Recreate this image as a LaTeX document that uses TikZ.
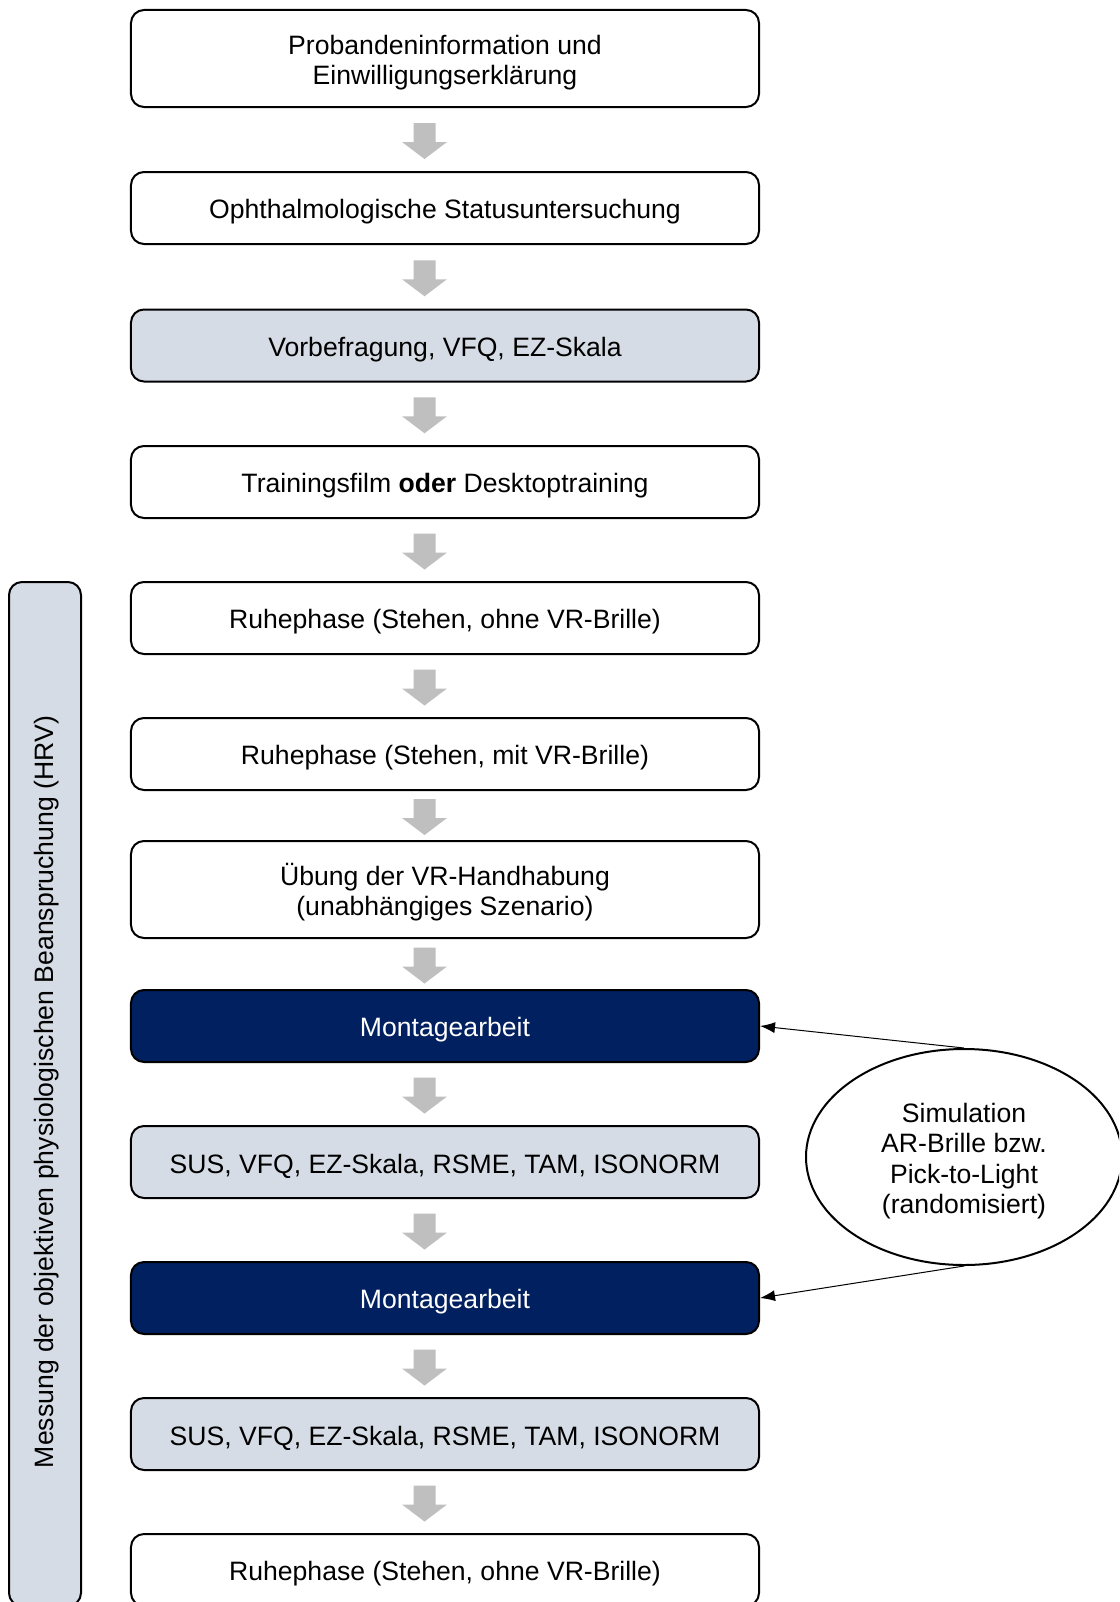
\documentclass[tikz,border=0pt]{standalone}
\usepackage{fontspec}
\setmainfont{Liberation Sans}
\usetikzlibrary{shapes.geometric,arrows.meta,calc}
\definecolor{paleblue}{HTML}{D6DCE5}
\definecolor{navy}{HTML}{002060}
\definecolor{arrowgray}{HTML}{BFBFBF}

% taller first line: sets the text a little below the geometric centre
\newcommand\lift{\rule{0pt}{27.4bp}}

% grey block arrow placed in the gap between two stacked stages
\newcommand\flowarrow[2]{%
  \path ($(#1.south)!0.5!(#2.north)$) ++(-20.5,1.5) coordinate (am);
  \fill[arrowgray] (am) ++(-11,-18) -- ++(22,0) -- ++(0,19) -- ++(11.5,0)
    -- ++(-22.5,17) -- ++(-22.5,-17) -- ++(11.5,0) -- cycle;
}

\begin{document}
\begin{tikzpicture}[x=1bp,y=-1bp,
  basefont/.style={font=\fontsize{26.6bp}{30.6bp}\selectfont},
  stage/.style={basefont,draw=black,line width=2bp,rounded corners=13bp,
    minimum width=628bp,minimum height=72bp,align=center,inner sep=0pt,fill=white},
  survey/.style={stage,fill=paleblue},
  task/.style={stage,fill=navy,text=white},
  feed/.style={draw=black,line width=1bp,-{Latex[length=15bp,width=11bp]}}]

\clip (0,0) rectangle (1119,1602);
\fill[white] (0,0) rectangle (1119,1602);

% measurement bar on the left
\draw[line width=2bp,rounded corners=13bp,fill=paleblue] (9,582) rectangle (81,1606);
\node[basefont,rotate=90,inner sep=0pt] (hrv) at (43,1092) {\lift Messung der objektiven physiologischen Beanspruchung (HRV)};

% stages of the procedure
\node[stage,minimum height=97bp] (s1) at (445,58.5) {\lift Probandeninformation und\\Einwilligungserklärung};
\node[stage] (s2) at (445,208) {\lift Ophthalmologische Statusuntersuchung};
\node[survey] (s3) at (445,345.5) {\lift Vorbefragung, VFQ, EZ-Skala};
\node[stage] (s4) at (445,482) {\lift Trainingsfilm \textbf{oder} Desktoptraining};
\node[stage] (s5) at (445,618) {\lift Ruhephase (Stehen, ohne VR-Brille)};
\node[stage] (s6) at (445,754) {\lift Ruhephase (Stehen, mit VR-Brille)};
\node[stage,minimum height=97bp] (s7) at (445,889.5) {\lift Übung der VR-Handhabung\\(unabhängiges Szenario)};
\node[task] (s8) at (445,1026) {\lift Montagearbeit};
\node[survey] (s9) at (445,1162) {\lift SUS, VFQ, EZ-Skala, RSME, TAM, ISONORM};
\node[task] (s10) at (445,1298) {\lift Montagearbeit};
\node[survey] (s11) at (445,1434) {\lift SUS, VFQ, EZ-Skala, RSME, TAM, ISONORM};
\node[stage] (s12) at (445,1570) {\lift Ruhephase (Stehen, ohne VR-Brille)};

\flowarrow{s1}{s2}
\flowarrow{s2}{s3}
\flowarrow{s3}{s4}
\flowarrow{s4}{s5}
\flowarrow{s5}{s6}
\flowarrow{s6}{s7}
\flowarrow{s7}{s8}
\flowarrow{s8}{s9}
\flowarrow{s9}{s10}
\flowarrow{s10}{s11}
\flowarrow{s11}{s12}

% simulation condition
\node[ellipse,draw=black,line width=2bp,fill=white,minimum width=316bp,minimum height=216bp,
  basefont,align=center,inner sep=0pt] (sim) at (964,1157)
  {\lift Simulation\\AR-Brille bzw.\\Pick-to-Light\\(randomisiert)};

\draw[feed] (sim.north) -- (s8.east);
\draw[feed] (sim.south) -- (s10.east);
\end{tikzpicture}
\end{document}
